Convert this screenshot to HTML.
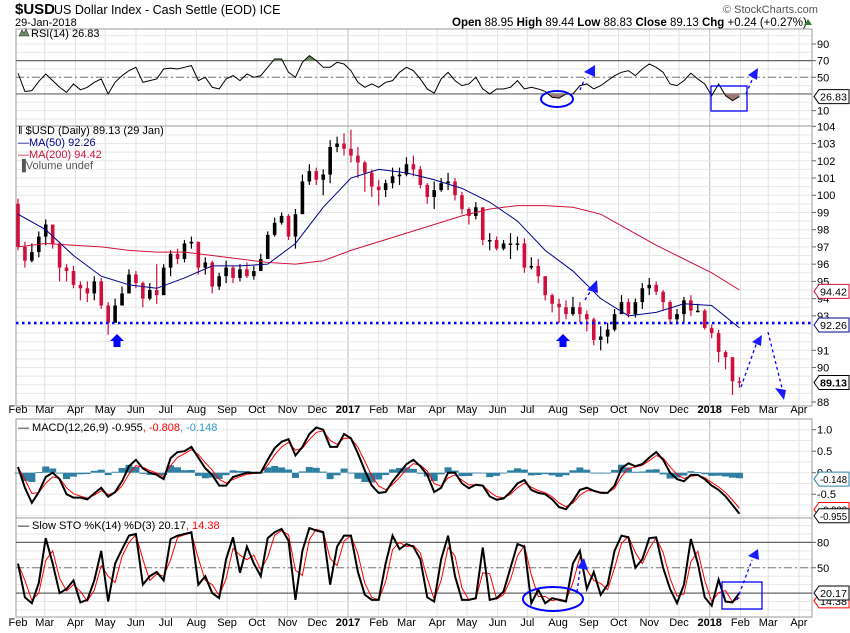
<!DOCTYPE html>
<html><head><meta charset="utf-8">
<style>
html,body{margin:0;padding:0;background:#fff;}
svg{display:block;font-family:"Liberation Sans",sans-serif;}
</style></head>
<body>
<svg id="chart" width="850" height="633" viewBox="0 0 850 633" xmlns="http://www.w3.org/2000/svg">
<rect x="0" y="0" width="850" height="633" fill="#fff"/>
<g>
<text x="15" y="14" font-size="15" font-weight="bold" fill="#000">$USD</text>
<text x="54" y="14" font-size="12.5" fill="#000">US Dollar Index - Cash Settle (EOD)  ICE</text>
<text x="15" y="26" font-size="11" fill="#000">29-Jan-2018</text>
<text x="723" y="13" font-size="11" fill="#555">© StockCharts.com</text>
<text x="452" y="26" font-size="11.5" fill="#000"><tspan font-weight="bold">Open</tspan> 88.95  <tspan font-weight="bold">High</tspan> 89.44  <tspan font-weight="bold">Low</tspan> 88.83  <tspan font-weight="bold">Close</tspan> 89.13  <tspan font-weight="bold">Chg</tspan> +0.24 (+0.27%)</text>
<polygon points="804,25 812,25 808,19" fill="#2e7d32"/>
</g>
<g id="grid"></g>
<g id="marks"></g>
<g id="anno"></g>
<g id="labels"></g>
</svg>
<script>
// ---------- data ----------
const weekCloses = [97.0,96.2,96.7,97.6,98.3,97.2,95.8,95.6,94.8,94.6,94.3,95.0,93.6,92.6,93.6,94.3,95.4,94.9,94.0,94.5,94.2,95.8,96.6,96.3,97.2,97.3,95.8,96.1,94.7,95.3,95.8,95.2,95.7,95.3,95.6,96.3,97.7,98.4,98.8,97.6,98.9,100.8,101.4,100.9,101.2,102.8,103.0,102.7,102.3,101.9,101.3,100.5,100.3,100.7,101.1,101.2,101.8,101.5,100.6,99.9,100.3,100.7,100.8,100.0,99.2,98.8,99.3,97.4,97.4,96.9,97.2,97.2,97.2,95.8,95.9,95.3,94.2,93.7,93.5,93.1,93.5,93.1,92.8,91.6,91.8,92.2,93.1,93.8,93.1,93.8,94.6,94.8,94.4,93.8,92.8,93.1,93.9,93.3,93.3,92.3,92.0,90.9,90.6,89.2,89.13];
const weekHighs = [99.8,97.3,97.2,97.9,98.6,98.3,97.3,96.0,95.9,95.0,95.0,95.3,95.2,93.8,94.0,94.7,95.7,95.6,95.0,94.9,96.0,96.0,96.8,96.9,97.4,97.6,97.3,96.4,96.2,95.5,96.2,95.9,96.0,96.1,95.9,96.6,97.9,98.7,99.0,98.9,99.2,101.2,101.8,101.6,101.5,103.2,103.4,103.6,103.8,102.8,102.0,101.5,100.9,100.9,101.6,101.6,102.2,102.3,101.7,100.7,100.8,101.0,101.3,101.0,100.2,99.3,99.6,99.3,97.8,97.6,97.4,97.8,97.6,97.5,96.4,96.3,95.3,94.3,94.0,93.9,94.1,93.8,93.3,92.9,92.4,92.6,93.4,94.2,94.0,94.0,94.9,95.2,95.0,94.5,93.9,93.4,94.1,94.2,93.7,93.4,92.5,92.2,91.0,90.6,89.44];
const weekLows = [96.8,95.8,96.1,96.4,97.1,96.9,95.0,95.0,94.6,93.9,93.8,93.9,93.4,91.9,92.7,93.7,94.6,94.6,93.5,93.9,93.7,94.4,95.3,96.0,96.1,96.9,95.4,95.4,94.3,94.5,94.9,94.9,95.0,95.2,95.1,95.6,96.3,97.6,98.3,97.4,96.9,99.4,100.6,100.6,100.0,100.7,102.5,102.3,101.9,101.0,100.2,99.9,99.4,99.9,100.4,100.6,101.1,101.1,100.4,99.5,99.2,100.2,100.3,99.7,98.9,98.3,98.6,97.1,96.8,96.8,96.8,96.3,96.8,95.5,95.7,94.9,93.9,93.2,92.6,92.8,93.0,92.6,92.1,91.3,91.0,91.4,92.1,93.2,92.9,92.9,93.4,94.2,94.2,93.3,92.5,92.5,92.6,93.0,93.2,92.2,91.7,90.3,89.9,88.4,88.83];
// moving averages sampled every 4 weeks
const ma50 = [98.9,98.0,96.5,95.3,94.8,94.6,95.2,95.9,95.9,96.0,97.2,99.3,101.0,101.5,101.3,100.9,100.4,99.6,98.5,96.8,95.6,94.0,93.0,93.2,93.7,93.6,92.3];
const ma200 = [97.0,97.2,97.1,97.0,96.8,96.7,96.7,96.5,96.3,96.1,96.0,96.2,96.8,97.3,97.8,98.3,98.8,99.2,99.4,99.4,99.3,98.9,98.0,97.1,96.3,95.5,94.5];
const rsiValues = [55,33,34,45,54,46,38,32,42,35,38,44,48,30,44,52,58,62,44,46,48,60,61,60,62,64,46,50,38,36,48,52,46,54,50,52,62,72,72,56,50,68,76,70,62,62,68,66,58,44,38,42,38,44,46,56,62,58,48,36,31,48,56,46,40,42,50,36,30,36,36,38,46,36,38,36,33,26,25,30,30,40,42,36,40,46,52,56,58,52,60,66,62,56,42,40,46,55,48,42,28,42,28,22,26.83];
const macdValues = [0.13,-0.35,-0.7,-0.45,-0.1,0.0,-0.15,-0.5,-0.58,-0.58,-0.62,-0.48,-0.35,-0.56,-0.45,-0.2,0.15,0.3,0.1,0.0,-0.05,-0.15,0.34,0.48,0.5,0.6,0.35,0.1,-0.05,-0.3,-0.3,-0.1,-0.05,0.0,0.0,0.0,0.3,0.57,0.72,0.78,0.4,0.6,0.9,1.05,1.0,0.6,0.6,0.9,0.8,0.45,0.05,-0.3,-0.47,-0.45,-0.2,0.0,0.2,0.3,0.15,-0.05,-0.45,-0.35,0.0,0.0,-0.25,-0.36,-0.28,-0.3,-0.55,-0.63,-0.6,-0.45,-0.25,-0.17,-0.4,-0.47,-0.5,-0.62,-0.8,-0.85,-0.65,-0.4,-0.35,-0.42,-0.47,-0.47,-0.3,0.1,0.22,0.15,0.2,0.35,0.48,0.3,0.0,-0.15,-0.2,-0.05,-0.05,-0.15,-0.3,-0.4,-0.55,-0.75,-0.955];
const stoK = [55,15,8,32,85,55,20,25,35,9,12,35,70,10,55,72,88,90,30,40,45,35,84,88,90,92,30,40,20,14,60,86,44,75,55,40,85,92,96,82,12,70,97,94,92,30,75,88,88,45,18,12,12,55,88,72,78,75,60,15,10,60,88,40,12,12,14,74,12,14,22,50,78,75,8,24,8,14,12,10,55,70,25,45,18,30,70,88,86,50,60,85,86,50,25,8,30,84,55,15,5,36,10,9,20.17];
const monthNames = ["Jan","Feb","Mar","Apr","May","Jun","Jul","Aug","Sep","Oct","Nov","Dec"];
const priceTicks = [88,89,90,91,92,93,94,95,96,97,98,99,100,101,102,103,104];
const rsiTicks = [10,50,70,90];
const macdTicks = [1.0,0.5,0.0,-0.5];
const stoTicks = [50,80];

// ---------- scales ----------
const NS="http://www.w3.org/2000/svg";
const L=16,R=812;
const PXD=0.991;
const xDay=d=>L+d*PXD;
const xWeek=w=>xDay(7*w+2);
const yPrice=p=>402-(p-88)*17.23;
const yRsi=v=>77.3-(v-50)*0.833;
const yMacd=v=>472.7-v*43;
const ySto=v=>610-v*0.845;
const gGrid=document.getElementById('grid'),gMarks=document.getElementById('marks'),gAnno=document.getElementById('anno'),gLab=document.getElementById('labels');
function mk(tag,attrs,parent){const e=document.createElementNS(NS,tag);for(const k in attrs)e.setAttribute(k,attrs[k]);parent.appendChild(e);return e;}
function txt(s,x,y,attrs,parent){const e=mk('text',Object.assign({x:x,y:y,'font-size':11,fill:'#000'},attrs),parent);e.textContent=s;return e;}

const panels=[{top:29,bot:126},{top:126,bot:406},{top:419,bot:518},{top:518,bot:617}];
const start=new Date(Date.UTC(2016,1,1));
const monthList=[];
for(let m=0;m<27;m++){const d=new Date(Date.UTC(2016,1+m,1));const day=(d-start)/86400000;monthList.push({day:day,d:d});}
panels.forEach(p=>{
  monthList.forEach(o=>{const x=xDay(o.day);if(x>R)return;
    const ln=mk('line',{x1:x,x2:x,y1:p.top,y2:p.bot,stroke:o.d.getUTCMonth()===0?'#bbb':'#e2e2e2','stroke-width':1},gGrid);
    
    
  });
});
for(let v=0;v<=100;v+=10){const l=mk('line',{x1:L,x2:R,y1:yRsi(v),y2:yRsi(v),stroke:'#e8e8e8'},gGrid);}
for(let v=87.5;v<=104;v+=0.5){const y=yPrice(v);if(y<127||y>405)continue;const l=mk('line',{x1:L,x2:R,y1:y,y2:y,stroke:'#e8e8e8'},gGrid);}
for(let v=-1;v<=1.01;v+=0.25){const l=mk('line',{x1:L,x2:R,y1:yMacd(v),y2:yMacd(v),stroke:'#e8e8e8'},gGrid);}
for(let v=0;v<=100;v+=10){const l=mk('line',{x1:L,x2:R,y1:ySto(v),y2:ySto(v),stroke:'#e8e8e8'},gGrid);}
panels.forEach((p,i)=>{const r=mk('rect',{x:L,y:p.top,width:R-L,height:p.bot-p.top,fill:'none',stroke:'#999','stroke-width':1},gGrid);});
[yRsi(70),yRsi(30),ySto(80),ySto(20)].forEach(y=>{const l=mk('line',{x1:L,x2:R,y1:y,y2:y,stroke:'#666','stroke-width':1.2},gGrid);});
[yRsi(50),ySto(50)].forEach(y=>{const l=mk('line',{x1:L,x2:R,y1:y,y2:y,stroke:'#777','stroke-dasharray':'8,3,2,3'},gGrid);});

// ---------- RSI ----------
const rsiPts=rsiValues.map((v,i)=>[xWeek(i),yRsi(v)]);
const defs=mk('defs',{},gMarks);
const c1=mk('clipPath',{id:'ob'},defs);mk('rect',{x:L,y:0,width:R-L,height:yRsi(70)},c1);
const c2=mk('clipPath',{id:'os'},defs);mk('rect',{x:L,y:yRsi(30),width:R-L,height:40},c2);
const poly=(y0)=>rsiPts.map(p=>p.join(',')).join(' ')+` ${rsiPts[rsiPts.length-1][0]},${y0} ${rsiPts[0][0]},${y0}`;
let f=mk('polygon',{points:poly(yRsi(70)),fill:'#6b8f63','clip-path':'url(#ob)'},gMarks);
f=mk('polygon',{points:poly(yRsi(30)),fill:'#9c7a78','clip-path':'url(#os)'},gMarks);
let pl=mk('polyline',{points:rsiPts.map(p=>p.join(',')).join(' '),fill:'none',stroke:'#000','stroke-width':1},gMarks);


// ---------- Price bars ----------
weekCloses.forEach((c,i)=>{
  const o=i===0?99.5:weekCloses[i-1];
  const col=c>=o?'#000':'#d0103a';
  const x=xWeek(i);
  const w=mk('line',{x1:x,x2:x,y1:yPrice(weekHighs[i]),y2:yPrice(weekLows[i]),stroke:col,'stroke-width':1.2},gMarks);
  
  const top=Math.min(yPrice(o),yPrice(c)),h=Math.max(1.5,Math.abs(yPrice(o)-yPrice(c)));
  const b=mk('rect',{x:x-1.8,y:top,width:3.6,height:h,fill:col},gMarks);
  
});
const maLine=(arr,col,name)=>{const pts=arr.map((v,i)=>xWeek(i*4)+','+yPrice(v)).join(' ');const e=mk('polyline',{points:pts,fill:'none',stroke:col,'stroke-width':1},gMarks);};
maLine(ma200,'#d0103a','ma200-line');
maLine(ma50,'#00008b','ma50-line');

// ---------- MACD ----------
const signal=[];macdValues.forEach((v,i)=>signal.push(i===0?v:signal[i-1]+0.6*(v-signal[i-1])));
macdValues.forEach((v,i)=>{const hv=v-signal[i];const y0=yMacd(0),y1=yMacd(hv);
  const r=mk('rect',{x:xWeek(i)-3.5,y:Math.min(y0,y1),width:7,height:Math.max(0.8,Math.abs(y1-y0)),fill:'#2f7fa3'},gMarks);
  });
pl=mk('polyline',{points:signal.map((v,i)=>xWeek(i)+','+yMacd(v)).join(' '),fill:'none',stroke:'#f00','stroke-width':1},gMarks);

pl=mk('polyline',{points:macdValues.map((v,i)=>xWeek(i)+','+yMacd(v)).join(' '),fill:'none',stroke:'#000','stroke-width':2},gMarks);


// ---------- Slow STO ----------
const stoD=stoK.map((v,i)=>{const a=stoK.slice(Math.max(0,i-1),i+1);return a.reduce((s,x)=>s+x,0)/a.length;});
pl=mk('polyline',{points:stoD.map((v,i)=>xWeek(i)+','+ySto(v)).join(' '),fill:'none',stroke:'#f00','stroke-width':1},gMarks);

pl=mk('polyline',{points:stoK.map((v,i)=>xWeek(i)+','+ySto(v)).join(' '),fill:'none',stroke:'#000','stroke-width':2},gMarks);


// ---------- annotations ----------
let a=mk('line',{x1:L,x2:R,y1:323,y2:323,stroke:'#0000ff','stroke-width':2.5,'stroke-dasharray':'2.5,3.5'},gAnno);
function upArrow(x,y,name){const p=mk('polygon',{points:`${x},${y} ${x+7},${y+7} ${x+3.5},${y+7} ${x+3.5},${y+13} ${x-3.5},${y+13} ${x-3.5},${y+7} ${x-7},${y+7}`,fill:'#0000ff'},gAnno);}
upArrow(117,334,'low-arrow-may');upArrow(563,334,'low-arrow-aug');
function tri(pts,name){const p=mk('polygon',{points:pts,fill:'#1a1aff'},gAnno);}
function dash(x1,y1,x2,y2,name){const l=mk('line',{x1,y1,x2,y2,stroke:'#0000ff','stroke-width':1.3,'stroke-dasharray':'3,3'},gAnno);}
dash(585,300,590,292,'price-projection-dash');tri('597,280 587,290 598,293','price-target-triangle');
dash(741,387,757,342,'price-projection-up');tri('762,335 752,342 761,346','price-up-triangle');
dash(768,332,782,388,'price-projection-down');tri('775,388 786,390 784,400','price-down-triangle');
a=mk('ellipse',{cx:557,cy:99,rx:16,ry:8,fill:'none',stroke:'#0000ff','stroke-width':2},gAnno);
dash(580,90,585,78,'rsi-projection-dash');tri('595,65 584,72 595,77','rsi-up-triangle');
a=mk('rect',{x:711,y:86,width:36,height:25,fill:'none',stroke:'#0000ff','stroke-width':1.3},gAnno);
dash(746,94,752,80,'rsi-projection-dash-2');tri('758,68 748,75 757,80','rsi-up-triangle-2');
a=mk('ellipse',{cx:553,cy:599,rx:30,ry:12,fill:'none',stroke:'#0000ff','stroke-width':2},gAnno);
dash(577,592,580,570,'sto-projection-dash');tri('584,558 577,568 588,570','sto-up-triangle');
a=mk('rect',{x:722,y:582,width:40,height:27,fill:'none',stroke:'#0000ff','stroke-width':1.3},gAnno);
dash(737,600,752,560,'sto-projection-dash-2');tri('758,549 748,556 759,560','sto-up-triangle-2');

// ---------- axis labels ----------
function tick(y,label,name){const l=mk('line',{x1:R,x2:R+4,y1:y,y2:y,stroke:'#666'},gLab);
  const t=txt(label,R+5,y+4,{'font-size':11},gLab);}
rsiTicks.forEach(v=>tick(yRsi(v),String(v),'rsi-axis-label'));
priceTicks.forEach(v=>{if(v===92||v===89)return;tick(yPrice(v),String(v),'price-axis-label');});
macdTicks.forEach(v=>tick(yMacd(v),v.toFixed(1),'macd-axis-label'));
stoTicks.forEach(v=>tick(ySto(v),String(v),'sto-axis-label'));
function tag(y,label,col,bold,name){const w=Math.min(849-(R+7),label.length*5.6+4);
  const p=mk('polygon',{points:`${R+2},${y} ${R+7},${y-7} ${R+7+w},${y-7} ${R+7+w},${y+7} ${R+7},${y+7}`,fill:'#fff',stroke:col,'stroke-width':1},gLab);
  const t=txt(label,R+8,y+4,{'font-size':10.5,'font-weight':bold?'bold':'normal',fill:'#000',textLength:w-3,lengthAdjust:'spacingAndGlyphs'},gLab);}
tag(yRsi(26.83),'26.83','#000',false,'rsi-value-tag');
tag(yPrice(94.42),'94.42','#d0103a',false,'ma200-value-tag');
tag(325,'92.26','#00008b',false,'ma50-value-tag');
tag(yPrice(89.13),'89.13','#000',true,'close-value-tag');
tag(yMacd(-0.148),'-0.148','#2f7fa3',false,'histogram-value-tag');
tag(yMacd(-0.808)+2,'-0.808','#f00',false,'signal-value-tag');
tag(yMacd(-0.955)+2,'-0.955','#000',false,'macd-value-tag');
tag(ySto(14.38)+3,'14.38','#f00',false,'sto-d-value-tag');
tag(ySto(20.17),'20.17','#000',false,'sto-k-value-tag');
[413,626].forEach(y=>{monthList.forEach(o=>{const x=xDay(o.day);if(x>R)return;const m=o.d.getUTCMonth();
  const isYear=m===0;const t=txt(isYear?String(o.d.getUTCFullYear()):monthNames[m],Math.max(x,18),y,{'font-size':11,'text-anchor':'middle','font-weight':isYear?'bold':'normal'},gLab);
  });});
function legend(parts,x,y,name){const t=mk('text',{x:x,y:y,'font-size':11},gLab);parts.forEach(p=>{const s=mk('tspan',{fill:p[1]},t);s.textContent=p[0];});}
let ic=mk('polygon',{points:'19,36 22,30 24,33 26,29 29,36',fill:'#6b8f63',stroke:'#333','stroke-width':0.6},gLab);
legend([['RSI(14) 26.83','#000']],31,37,'rsi-legend');
legend([['\u2016 $USD (Daily) 89.13 (29 Jan)','#000']],18,134,'price-legend');
legend([['\u2014MA(50) 92.26','#00008b']],18,146,'ma50-legend');
legend([['\u2014MA(200) 94.42','#d0103a']],18,158,'ma200-legend');
legend([['\u2590Volume undef','#555']],18,169,'volume-legend');
legend([['\u2014 MACD(12,26,9) -0.955','#000'],[', -0.808','#f00'],[', -0.148','#2f9bd0']],18,431,'macd-legend');
legend([['\u2014 Slow STO %K(14) %D(3) 20.17','#000'],[', 14.38','#f00']],18,529,'sto-legend');
</script>
</body></html>
